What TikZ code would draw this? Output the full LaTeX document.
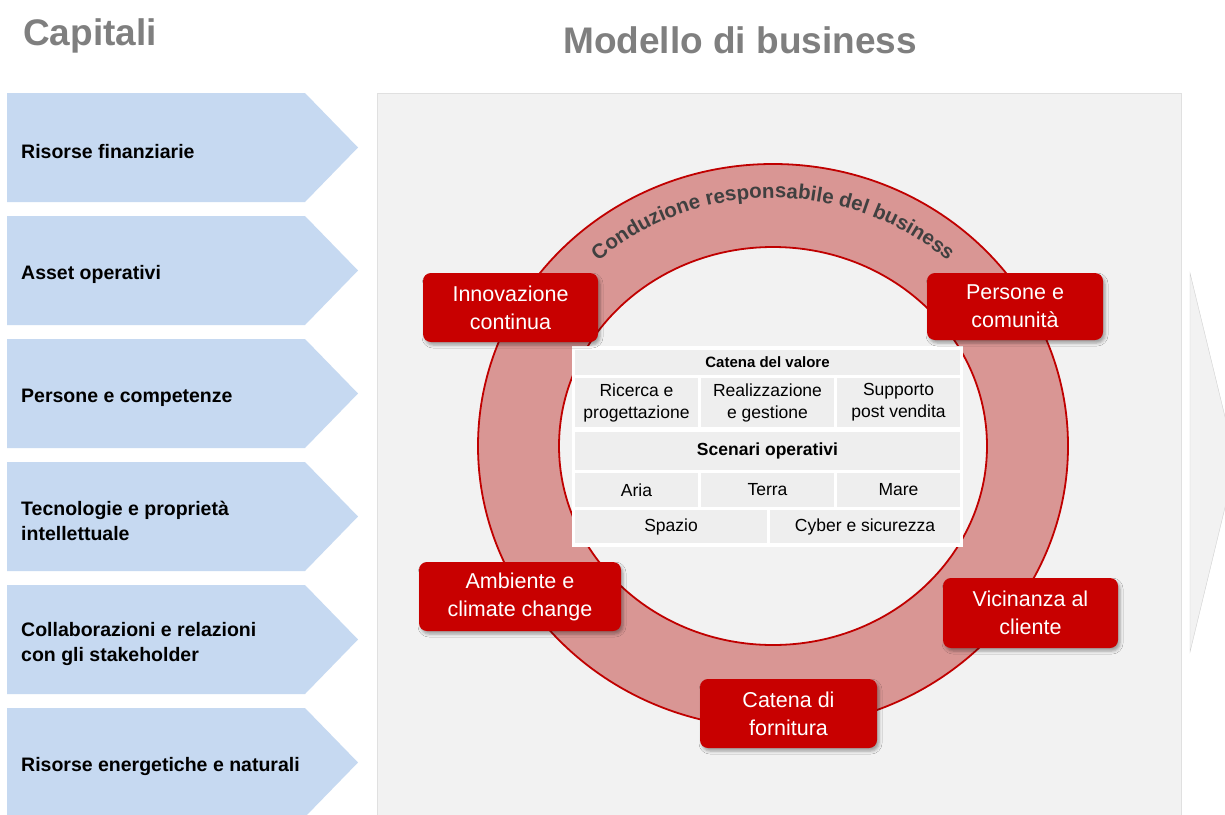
\documentclass[tikz,border=0pt]{standalone}
\usepackage{fontspec}
\setmainfont{Liberation Sans}
\usepackage{tikz}
\usetikzlibrary{shadows.blur,decorations.text}
\definecolor{titleGray}{RGB}{127,127,127}
\definecolor{arrowBlue}{RGB}{198,217,241}
\definecolor{panelGray}{RGB}{242,242,242}
\definecolor{ringPink}{RGB}{217,150,148}
\definecolor{ringRed}{RGB}{192,0,0}
\definecolor{boxRed}{RGB}{200,0,0}
\definecolor{ringText}{RGB}{64,64,64}
\definecolor{cellGray}{RGB}{238,238,238}
\newcommand{\ringFont}{\fontsize{20.5}{24}\selectfont\bfseries}

\begin{document}
\begin{tikzpicture}[x=1pt,y=1pt]
  \tikzstyle{title} = [font={\fontsize{37}{44}\selectfont\bfseries}, text=titleGray, inner sep=0pt];
  \tikzstyle{capArrow} = [fill=arrowBlue, draw=none];
  \tikzstyle{capText} = [anchor=west, align=left, inner sep=0pt, font={\fontsize{19.5}{25}\selectfont\bfseries}];
  \tikzstyle{valueBox} = [fill=boxRed, rounded corners=8pt, text=white, align=center, font={\fontsize{21.5}{28}\selectfont},
                          blur shadow={shadow xshift=2pt, shadow yshift=-3pt, shadow blur radius=3pt, shadow opacity=35}];
  \tikzstyle{cell} = [fill=cellGray, inner sep=0pt, align=center, font={\fontsize{17.5}{22}\selectfont}];
  \tikzstyle{ringLine} = [ringRed, line width=1.8pt];

  \clip (0,0) rectangle (1225,-814);
  \fill[white] (0,0) rectangle (1225,-814);

  % titoli
  \node[title, name=capitali, anchor=base west] at (23,-45) {Capitali};
  \node[title, name=modello, anchor=base] at (740,-53) {Modello di business};

  % frecce dei capitali
  \foreach \i/\txt in {1/{Risorse finanziarie}, 2/{Asset operativi}, 3/{Persone e competenze},
                       4/{Tecnologie e proprietà\\intellettuale}, 5/{Collaborazioni e relazioni\\con gli stakeholder},
                       6/{Risorse energetiche e naturali}} {
    \pgfmathsetmacro{\capTop}{-93-123*(\i-1)}
    \fill[capArrow] (7,\capTop) -- (305,\capTop) -- (358,\capTop-54.5) -- (305,\capTop-109) -- (7,\capTop-109) -- cycle;
    \node[capText, name=cap\i] at (21,\capTop-58.5) {\txt};
  }

  % pannello del modello
  \fill[panelGray] (377,-93) rectangle (1181,-830);
  \draw[black!12] (377,-830) -- (377,-93) -- (1181,-93) -- (1181,-830);
  \fill[black!5] (1190,-273) -- (1236,-462) -- (1190,-652) -- cycle;
  \draw[black!18] (1190,-273) -- (1236,-462) -- (1190,-652) -- cycle;

  % anello
  \coordinate (ringCenter) at (773,-446);
  \fill[ringPink, even odd rule] (ringCenter) ellipse [x radius=295, y radius=282]
                                 (ringCenter) ellipse [x radius=214, y radius=199];
  \draw[ringLine] (ringCenter) ellipse [x radius=295, y radius=282];
  \draw[ringLine] (ringCenter) ellipse [x radius=214, y radius=199];
  \path[decorate, decoration={text along path, text align=center, text color=ringText,
        text={|\ringFont|Conduzione responsabile del business}}]
    (ringCenter) ++(165:262 and 248) arc[start angle=165, end angle=15, x radius=262, y radius=248];

  % catena del valore e scenari
  \fill[white] (572,-346) rectangle (963,-547);
  \node[cell, name=catena, minimum width=385, minimum height=25, font={\fontsize{15}{18}\selectfont\bfseries}] at (767.5,-362.5) {Catena del valore};
  \node[cell, name=ricerca, minimum width=123, minimum height=49] at (636.5,-402.5) {Ricerca e\\progettazione};
  \node[cell, name=realizzazione, minimum width=133, minimum height=49] at (767.5,-402.5) {Realizzazione\\e gestione};
  \node[cell, name=supporto, minimum width=123, minimum height=49] at (898.5,-402.5) {Supporto\\post vendita};
  \node[cell, name=scenari, minimum width=385, minimum height=38, font={\fontsize{17.5}{22}\selectfont\bfseries}] at (767.5,-451) {Scenari operativi};
  \node[cell, name=aria, minimum width=123, minimum height=34] at (636.5,-490) {Aria};
  \node[cell, name=terra, minimum width=133, minimum height=34] at (767.5,-490) {Terra};
  \node[cell, name=mare, minimum width=123, minimum height=34] at (898.5,-490) {Mare};
  \node[cell, name=spazio, minimum width=192, minimum height=33] at (671,-526.5) {Spazio};
  \node[cell, name=cyber, minimum width=190, minimum height=33] at (865,-526.5) {Cyber e sicurezza};

  % elementi del modello
  \node[valueBox, name=innovazione, minimum width=175, minimum height=69] at (510.5,-307.5) {Innovazione\\continua};
  \node[valueBox, name=persone, minimum width=176, minimum height=67] at (1015,-306.5) {Persone e\\comunità};
  \node[valueBox, name=ambiente, minimum width=202, minimum height=69] at (520,-596.5) {Ambiente e\\climate change};
  \node[valueBox, name=fornitura, minimum width=177, minimum height=69] at (788.5,-713.5) {Catena di\\fornitura};
  \node[valueBox, name=vicinanza, minimum width=175, minimum height=70] at (1030.5,-613) {Vicinanza al\\cliente};
\end{tikzpicture}
\end{document}
